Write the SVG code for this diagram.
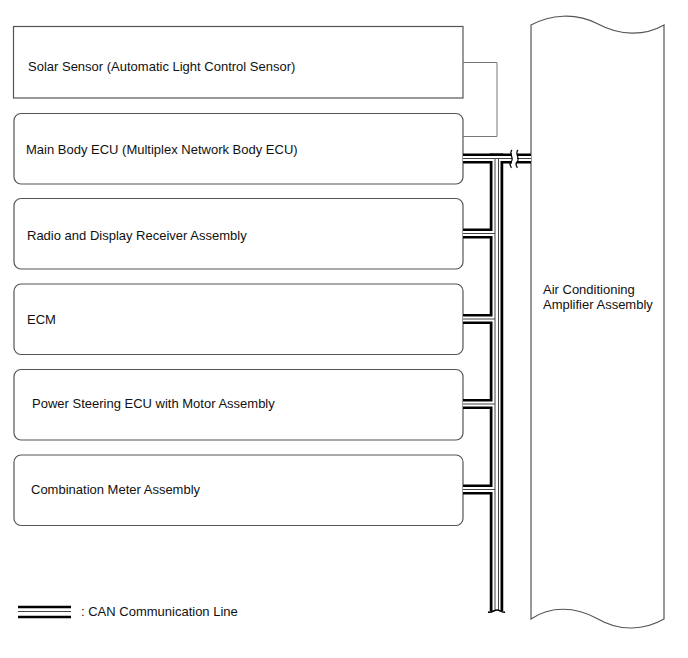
<svg xmlns="http://www.w3.org/2000/svg" width="688" height="658" viewBox="0 0 688 658">
<style>
.box{fill:#fff;stroke:#555;stroke-width:1.2}
.t{font-family:"Liberation Sans",Arial,sans-serif;font-size:13px;fill:#111}
.blk{fill:none;stroke:#000;stroke-linejoin:miter;stroke-linecap:butt}
.wht{fill:none;stroke:#fff;stroke-linejoin:miter;stroke-linecap:butt}
.thin{fill:none;stroke:#444;stroke-width:1}
</style>
<rect width="688" height="658" fill="#fff"/>
<g id="air-conditioning-amplifier">
<path class="box" d="M531,25 C550,15 575,12 598,24 C620,36 645,36 664,25 L664,619 C645,630 620,632 598,619 C575,606 550,606 531,619 Z"/>
<text class="t" x="543" y="294">Air Conditioning</text>
<text class="t" x="543" y="309">Amplifier Assembly</text>
</g>
<g id="solar-sensor">
<rect class="box" x="13.5" y="26.5" width="449.5" height="71.5"/>
<text class="t" x="28" y="71">Solar Sensor (Automatic Light Control Sensor)</text>
</g>
<g id="main-body-ecu">
<rect class="box" x="14" y="113.5" width="449" height="70.5" rx="7"/>
<text class="t" x="26" y="154">Main Body ECU (Multiplex Network Body ECU)</text>
</g>
<g id="radio">
<rect class="box" x="14" y="198.5" width="449" height="70.5" rx="7"/>
<text class="t" x="27" y="240">Radio and Display Receiver Assembly</text>
</g>
<g id="ecm">
<rect class="box" x="14" y="284" width="449" height="70.5" rx="7"/>
<text class="t" x="27" y="324">ECM</text>
</g>
<g id="power-steering">
<rect class="box" x="14" y="369.5" width="449" height="70.5" rx="7"/>
<text class="t" x="32" y="408">Power Steering ECU with Motor Assembly</text>
</g>
<g id="combination-meter">
<rect class="box" x="14" y="455" width="449" height="70.5" rx="7"/>
<text class="t" x="31" y="494">Combination Meter Assembly</text>
</g>
<g id="connectors">
<path d="M463,62.5 H497 V136.5 H463" fill="none" stroke="#777" stroke-width="1"/>
<g id="can-bus">
<path class="blk" stroke-width="10" d="M463,158.5 H512 M517,158.5 H531 M463,233.5 H496 M463,319 H496 M463,404 H496 M463,489.5 H496"/>
<path class="blk" stroke-width="13.5" d="M496.5,153.5 V611"/>
<path class="wht" stroke-width="5" d="M463,158.5 H512 M517,158.5 H531 M463,233.5 H497 M463,319 H497 M463,404 H497 M463,489.5 H497"/>
<path class="wht" stroke-width="8" d="M496.5,161 V611"/>
<path class="thin" d="M463,158.5 H512 M517,158.5 H531 M463,233.5 H495 M463,319 H495 M463,404 H495 M463,489.5 H495"/>
<path class="thin" d="M495,158.5 V611 M498.5,158.5 V611"/>
<path d="M512,150 C508,154 515,158 511,162 C508,165 512,166 511,168 M518,150 C514,154 521,158 517,162 C514,165 518,166 517,168" fill="none" stroke="#000" stroke-width="1.2"/>
<path d="M488,612 C492,613 494,610 497,610 C500,610 502,613 505,612" fill="none" stroke="#000" stroke-width="1.5"/>
</g>
</g>
<g id="legend">
<line x1="18" y1="607" x2="71" y2="607" stroke="#000" stroke-width="2.5"/>
<line x1="18" y1="611.5" x2="71" y2="611.5" stroke="#444" stroke-width="1"/>
<line x1="18" y1="617" x2="71" y2="617" stroke="#000" stroke-width="2.5"/>
<text class="t" x="81" y="616">: CAN Communication Line</text>
</g>
</svg>
